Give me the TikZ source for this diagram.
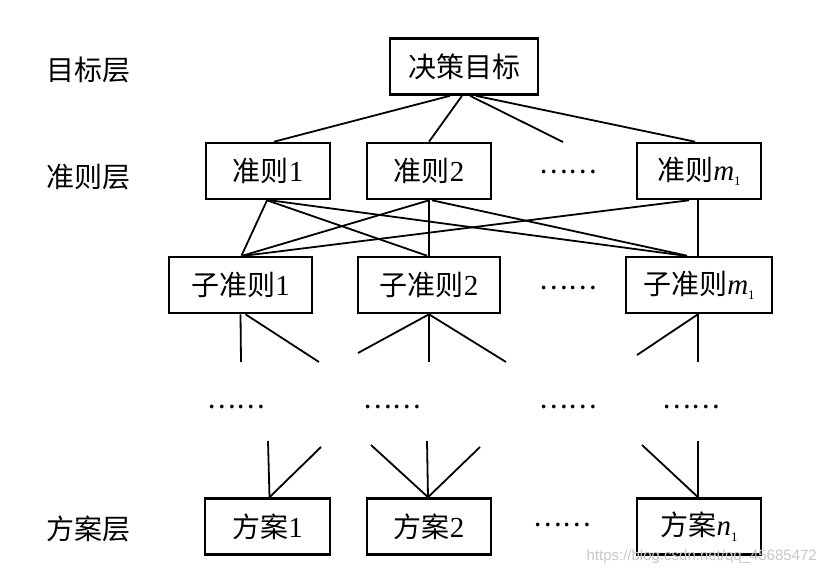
\documentclass[tikz,border=0pt]{standalone}
\usepackage{fontspec}
\setmainfont{Liberation Serif}
\newfontfamily\cjk{Noto Sans CJK SC}
\newfontfamily\wmfont{Liberation Sans}
\usetikzlibrary{calc}
\newcommand\latn[1]{{\rmfamily\fontsize{29}{30}\selectfont #1}}
\newcommand\subidx[2]{{\rmfamily\itshape\fontsize{29}{30}\selectfont #1}\raisebox{-0.35ex}{\rmfamily\upshape\fontsize{13}{14}\selectfont #2}}
\begin{document}
\begin{tikzpicture}[x=1pt,y=-1pt,
  box/.style={draw, line width=2.6pt, minimum height=56pt, inner sep=0pt,
    font=\cjk\fontsize{28}{30}\selectfont},
  lbl/.style={font=\cjk\fontsize{28}{30}\selectfont, inner sep=0pt},
  dotsn/.style={font=\cjk\fontsize{27}{30}\selectfont, inner sep=0pt},
  ln/.style={line width=1.8pt}]
\useasboundingbox[fill=white] (0,0) rectangle (826,575);

% row labels
\node[lbl] (Lgoal) at (88,70) {目标层};
\node[lbl] (Lcrit) at (88,177) {准则层};
\node[lbl] (Lalt)  at (88,529) {方案层};

% boxes
\node[box, minimum width=148pt] (goal) at (464,66.5) {决策目标};
\node[box, minimum width=124pt] (c1) at (268,171) {准则\latn{1}};
\node[box, minimum width=124pt] (c2) at (429,171) {准则\latn{2}};
\node[box, minimum width=124pt] (cm) at (699,171) {准则\subidx{m}{1}};
\node[box, minimum width=143pt] (s1) at (240.5,285) {子准则\latn{1}};
\node[box, minimum width=142pt] (s2) at (429,285) {子准则\latn{2}};
\node[box, minimum width=146pt] (sm) at (699,285) {子准则\subidx{m}{1}};
\node[box, minimum width=125pt] (a1) at (267.5,526.5) {方案\latn{1}};
\node[box, minimum width=124pt] (a2) at (429,526.5) {方案\latn{2}};
\node[box, minimum width=124pt] (an) at (699,526.5) {方案\subidx{n}{1}};

% ellipses
\node[dotsn] (d2) at (568,172) {……};
\node[dotsn] (d3) at (568,288) {……};
\node[dotsn] (d4) at (562,525) {……};
\node[dotsn] (m1) at (236,407) {……};
\node[dotsn] (m2) at (392,407) {……};
\node[dotsn] (m3) at (568,407) {……};
\node[dotsn] (m4) at (691,407) {……};

% goal -> criteria
\coordinate (gdang) at (563,142);
\draw[ln] ($(goal.south)+(-14,0)$) -- ($(c1.north)+(6,0)$);
\draw[ln] ($(goal.south)+(-2,0)$) -- (c2.north);
\draw[ln] ($(goal.south)+(6,0)$) -- (gdang);
\draw[ln] ($(goal.south)+(12,0)$) -- ($(cm.north)+(-4,0)$);

% criteria -> sub-criteria
\draw[ln] ($(c1.south)+(-1,0)$) -- ($(s1.north)+(1,0)$);
\draw[ln] ($(c1.south)+(-1,0)$) -- ($(s2.north)+(-2,0)$);
\draw[ln] ($(c1.south)+(2,0)$) -- ($(sm.north)+(-14,0)$);
\draw[ln] (c2.south) -- ($(s1.north)+(2,0)$);
\draw[ln] (c2.south) -- (s2.north);
\draw[ln] ($(c2.south)+(3,0)$) -- ($(sm.north)+(-12,0)$);
\draw[ln] ($(cm.south)+(-10,0)$) -- ($(s1.north)+(4,0)$);
\draw[ln] ($(cm.south)+(-1,0)$) -- ($(sm.north)+(-1,0)$);

% sub-criteria downwards
\coordinate (s1a) at (241,362);
\coordinate (s1b) at (319,362);
\coordinate (s2a) at (358,353);
\coordinate (s2b) at (429,362);
\coordinate (s2c) at (506,362);
\coordinate (sma) at (637,355);
\coordinate (smb) at (698,362);
\draw[ln] (s1.south) -- (s1a);
\draw[ln] ($(s1.south)+(5,0)$) -- (s1b);
\draw[ln] (s2.south) -- (s2a);
\draw[ln] (s2.south) -- (s2b);
\draw[ln] (s2.south) -- (s2c);
\draw[ln] ($(sm.south)+(-1,0)$) -- (sma);
\draw[ln] ($(sm.south)+(-1,0)$) -- (smb);

% alternatives upwards
\coordinate (a1a) at (268,441);
\coordinate (a1b) at (321,447);
\coordinate (a2a) at (371,445);
\coordinate (a2b) at (427,441);
\coordinate (a2c) at (480,447);
\coordinate (ana) at (642,445);
\coordinate (anb) at (698,441);
\draw[ln] (a1a) -- ($(a1.north)+(2,0)$);
\draw[ln] (a1b) -- ($(a1.north)+(2,0)$);
\draw[ln] (a2a) -- ($(a2.north)+(-1,0)$);
\draw[ln] (a2b) -- ($(a2.north)+(-1,0)$);
\draw[ln] (a2c) -- ($(a2.north)+(-1,0)$);
\draw[ln] (ana) -- ($(an.north)+(-1,0)$);
\draw[ln] (anb) -- ($(an.north)+(-1,0)$);

% watermark
\node[font=\wmfont\fontsize{15}{17}\selectfont, text=black!22, inner sep=0pt, anchor=east] (wm) at (817,557) {https://blog.csdn.net/qq\_45685472};
\end{tikzpicture}
\end{document}
